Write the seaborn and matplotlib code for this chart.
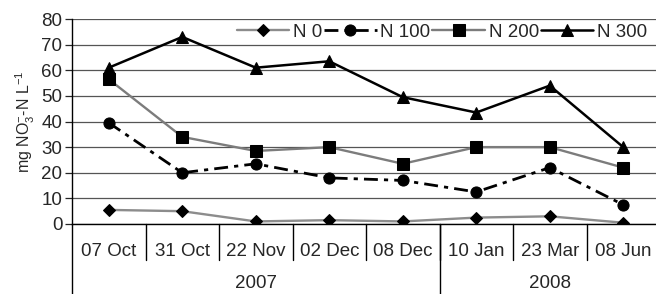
import numpy as np
import pandas as pd
import seaborn as sns
from matplotlib import pyplot as plt
from matplotlib import transforms as mtrans

# sampling dates (category axis) and the year groups under them
dates = ['07 Oct', '31 Oct', '22 Nov', '02 Dec', '08 Dec', '10 Jan', '23 Mar', '08 Jun']
years = ['2007', '2008']
year_counts = [5, 3]

# mg NO3-N per litre
n0 = [5.5, 5.0, 1.0, 1.5, 1.0, 2.5, 3.0, 0.5]
n100 = [39.5, 20.0, 23.5, 18.0, 17.0, 12.5, 22.0, 7.5]
n200 = [56.5, 34.0, 28.5, 30.0, 23.5, 30.0, 30.0, 22.0]
n300 = [61.0, 73.0, 61.0, 63.5, 49.5, 43.5, 54.0, 30.0]

sns.set_theme(style='white')
plt.rcParams['font.family'] = ['Liberation Sans', 'DejaVu Sans']
plt.rcParams['mathtext.default'] = 'regular'

df = pd.DataFrame({'date': dates, 'N 0': n0, 'N 100': n100, 'N 200': n200, 'N 300': n300})

styles = {
    'N 0': dict(color='#8c8c8c', lw=1.7, marker='D', ms=6.5, ls='-'),
    'N 100': dict(color='black', lw=2.0, marker='o', ms=8, ls=(0, (5, 2.2, 1.5, 2.2))),
    'N 200': dict(color='#7c7c7c', lw=1.7, marker='s', ms=8, ls='-'),
    'N 300': dict(color='black', lw=1.8, marker='^', ms=9, ls='-'),
}

fig = plt.figure(figsize=(6.56, 2.94), dpi=100)
ax = fig.add_axes([72 / 656, 70 / 294, 588 / 656, 205 / 294])

for name, st in styles.items():
    sns.lineplot(data=df, x='date', y=name, ax=ax, sort=False, label=name,
                 color=st['color'], lw=st['lw'], linestyle=st['ls'],
                 marker=st['marker'], ms=st['ms'], mfc='black', mec='black')

ax.set_xlim(-0.5, len(dates) - 0.5)
ax.set_ylim(0, 80)
ax.set_yticks(np.arange(0, 81, 10))
ax.yaxis.grid(True, color='#555555', lw=0.9)
ax.set_axisbelow(True)
for s in ['top', 'right']:
    ax.spines[s].set_visible(False)
for s in ['left', 'bottom']:
    ax.spines[s].set_color('black')
    ax.spines[s].set_linewidth(1)

ax.set_xticks(range(len(dates)))
ax.set_xticklabels(dates)
ax.tick_params(axis='x', length=0, pad=14, labelsize=13.5)
ax.tick_params(axis='y', left=True, length=5, width=0.9, direction='out', pad=2, labelsize=13.5)
ax.set_xlabel('')
ax.set_ylabel('mg NO$_3^{-}$-N L$^{-1}$', fontsize=11.5, labelpad=3)

# two-level category axis: dividers between dates, longer ones between years
for k in range(len(dates)):
    ax.axvline(k + 0.5, ymin=-36 / 205, ymax=0, clip_on=False, color='black', lw=1)
edges = np.concatenate([[0], np.cumsum(year_counts)]) - 0.5
for e in edges:
    ax.axvline(e, ymin=-70 / 205, ymax=0, clip_on=False, color='black', lw=1)
trans = mtrans.blended_transform_factory(ax.transData, ax.transAxes)
for yr, a, b in zip(years, edges[:-1], edges[1:]):
    ax.text((a + b) / 2, -0.29, yr, transform=trans, ha='center', va='center', fontsize=13.5)

ax.legend(ncol=4, loc='upper left', bbox_to_anchor=(234 / 656, 1 - 21 / 294),
          bbox_transform=fig.transFigure, borderaxespad=0, borderpad=0.15,
          handlelength=2.8, handletextpad=0.2, columnspacing=0.1,
          frameon=True, facecolor='white', edgecolor='none', fancybox=False,
          framealpha=1, fontsize=13.5)

fig.savefig('out.png', dpi=100)
